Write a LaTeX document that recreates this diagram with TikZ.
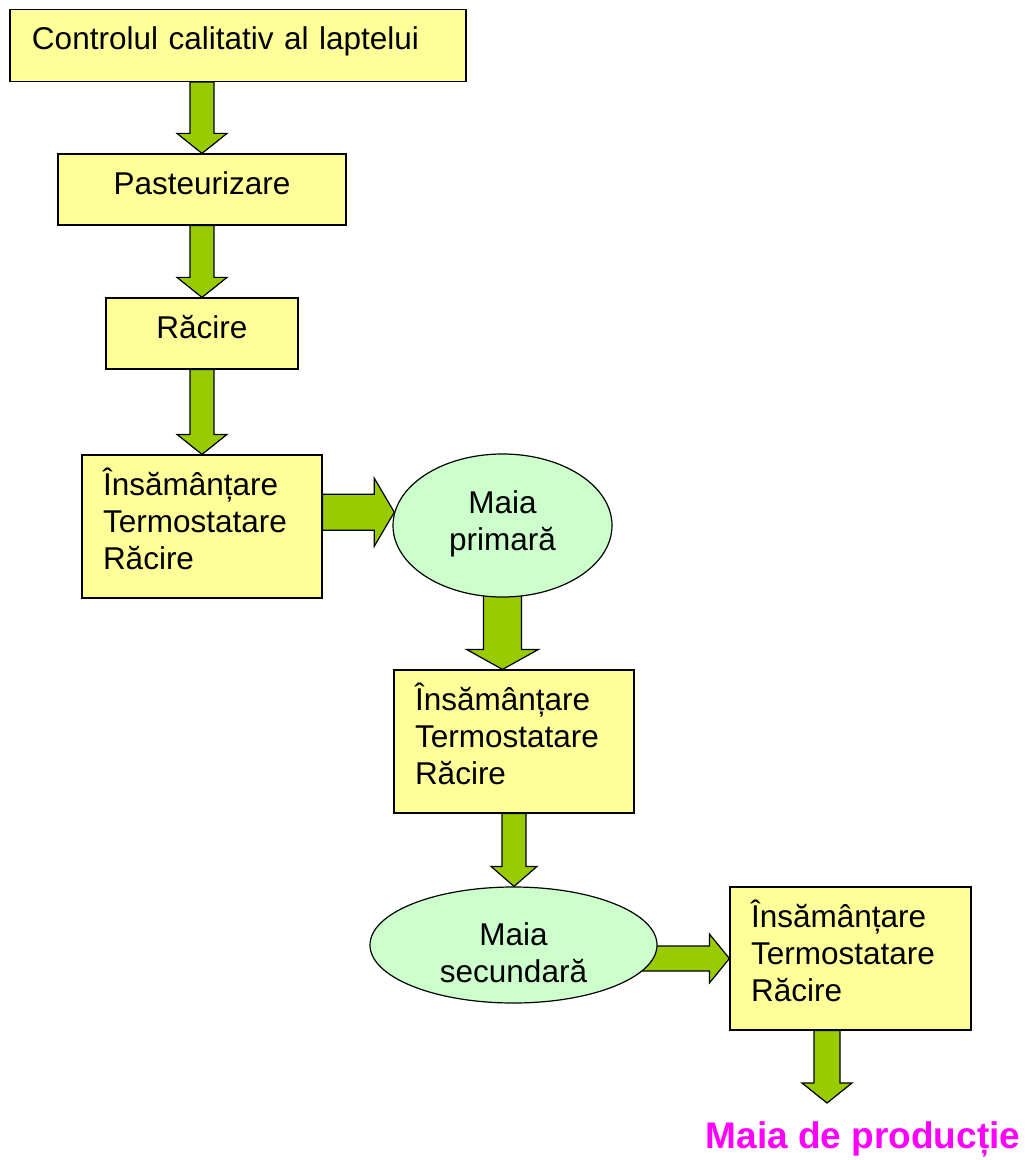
\documentclass[tikz,border=0pt]{standalone}
\usepackage{fontspec}
\setmainfont{Liberation Sans}
\usetikzlibrary{shapes.geometric,calc,backgrounds}
\definecolor{boxyellow}{HTML}{FFFF99}
\definecolor{ovalgreen}{HTML}{CCFFCC}
\definecolor{arrowgreen}{HTML}{99CC00}
\definecolor{prodmagenta}{HTML}{FF00FF}
\tikzset{
  box/.style={draw=black,line width=0.6pt,fill=boxyellow,inner xsep=10.5pt,inner ysep=0pt,
    text height=20.25pt,font=\fontsize{15.75pt}{18.5pt}\selectfont},
  leftbox/.style={box,align=left,text width=#1},
  ovalbox/.style={ellipse,draw=black,line width=0.6pt,fill=ovalgreen,inner sep=0pt,align=center,
    text height=0pt,font=\fontsize{15.75pt}{18.5pt}\selectfont},
  blkarrow/.style={draw=black,line width=0.6pt,fill=arrowgreen,line join=miter},
  prodtext/.style={text=prodmagenta,font=\fontsize{18.5pt}{22pt}\selectfont\bfseries}
}
% block arrows: #1 gives the axis, #2 the start, #3 the tip, #4 half shaft, #5 half head
\newcommand{\blkdown}[5]{%
  \draw[blkarrow] let \p1=(#1), \p2=(#2), \p3=(#3) in
    (\x1-#4,\y2) -- (\x1-#4,\y3+10pt) -- (\x1-#5,\y3+10pt) -- (\x1,\y3)
    -- (\x1+#5,\y3+10pt) -- (\x1+#4,\y3+10pt) -- (\x1+#4,\y2) -- cycle;}
\newcommand{\blkright}[5]{%
  \draw[blkarrow] let \p1=(#1), \p2=(#2), \p3=(#3) in
    (\x2,\y1+#4) -- (\x3-10pt,\y1+#4) -- (\x3-10pt,\y1+#5) -- (\x3,\y1)
    -- (\x3-10pt,\y1-#5) -- (\x3-10pt,\y1-#4) -- (\x2,\y1-#4) -- cycle;}
\begin{document}
\begin{tikzpicture}[x=0.5pt,y=-0.5pt]
\useasboundingbox (0,0) rectangle (1026,1160);
%boxes
\node[leftbox=206pt,minimum width=228pt,text depth=15.75pt,inner xsep=11pt] (ctrl) at (238,45.5) {Controlul calitativ al laptelui};
\node[box,minimum width=144pt,text depth=15.25pt] (pas) at (202,189.5) {Pasteurizare};
\node[box,minimum width=96pt,text depth=15.25pt] (rac) at (202,333.5) {Răcire};
\node[leftbox=99pt,minimum width=120pt,text depth=51.25pt] (ins1) at (202,526.5) {Însămânțare\\Termostatare\\Răcire};
\node[ovalbox,text width=75pt,text depth=12.5pt,minimum width=109.5pt,minimum height=71.5pt] (mp) at (502.5,525.5) {Maia\\primară};
\node[leftbox=99pt,minimum width=120pt,text depth=51.25pt] (ins2) at (514,741.5) {Însămânțare\\Termostatare\\Răcire};
\node[ovalbox,text width=96pt,text depth=0pt,minimum width=143.5pt,minimum height=58pt] (ms) at (513.5,945) {Maia\\secundară};
\node[leftbox=99.5pt,minimum width=120.5pt,text depth=51.25pt] (ins3) at (850.5,958.5) {Însămânțare\\Termostatare\\Răcire};
%end product
\node[prodtext] (prod) at (863,1139) {Maia de producție};
\coordinate (prodtip) at (827,1103);
%arrows
\begin{pgfonlayer}{background}
\fill[white] (0,0) rectangle (1026,1160);
\blkdown{pas.north}{ctrl.south}{pas.north}{6pt}{12.5pt}
\blkdown{rac.north}{pas.south}{rac.north}{6pt}{12.5pt}
\blkdown{ins1.north}{rac.south}{ins1.north}{6pt}{12.5pt}
\blkright{mp.173}{ins1.east}{mp.173}{9pt}{17pt}
\blkdown{mp.south}{mp.center}{ins2.north}{9.5pt}{18pt}
\blkdown{ins2.south}{ins2.south}{ms.north}{6pt}{11.5pt}
\blkright{ins3.west}{ms.center}{ins3.west}{6.25pt}{12.25pt}
\blkdown{prodtip}{ins3.south}{prodtip}{6.5pt}{12.5pt}
\end{pgfonlayer}
\end{tikzpicture}
\end{document}
